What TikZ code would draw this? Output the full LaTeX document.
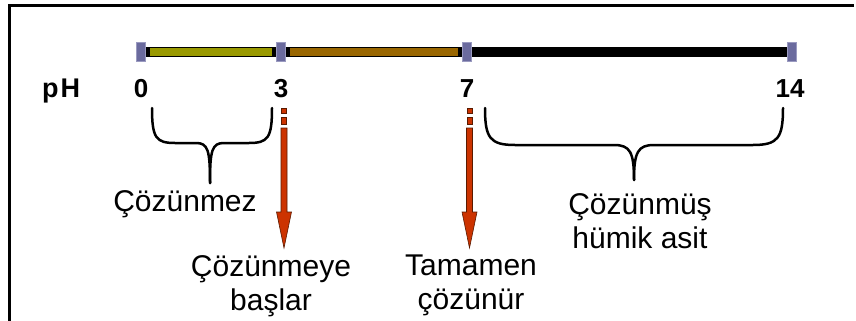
\documentclass[tikz,border=0pt]{standalone}
\usepackage{fontspec}
\setmainfont{Liberation Sans}
\definecolor{olivebar}{HTML}{999900}
\definecolor{brownbar}{HTML}{996600}
\definecolor{markfill}{HTML}{6B6B9E}
\definecolor{markedge}{HTML}{9A9AC0}
\definecolor{arrowred}{HTML}{CC3300}
\definecolor{arrowedge}{HTML}{5A1A00}
\begin{document}
\begin{tikzpicture}[x=1pt,y=-1pt,
  ticklbl/.style={font=\fontsize{26}{30}\selectfont\bfseries, inner sep=0pt, anchor=base},
  lbl/.style={font=\fontsize{30}{34}\selectfont, inner sep=0pt, align=center, anchor=north},
  phmark/.style={draw=markedge, line width=0.5pt, fill=markfill,
    minimum width=9pt, minimum height=19pt, inner sep=0pt},
  bracepath/.style={line width=2.5pt, line cap=round, line join=round},
  redbox/.style={fill=arrowred, draw=arrowedge, line width=0.6pt, line join=miter},
  downarrow/.pic={
    \path[redbox] (-2.7,0) rectangle (2.7,5);
    \path[redbox] (-2.7,9) rectangle (2.7,16);
    \path[redbox] (-3,20) -- (3,20) -- (3,104) -- (7.5,104) -- (0,140)
      -- (-7.5,104) -- (-3,104) -- cycle;
  }]
\useasboundingbox (0,0) rectangle (856,321);

% frame: top and left edges only
\draw[line width=3pt, line join=miter] (9,321) -- (9,5.5) -- (854,5.5);

% pH scale bar
\coordinate (p0) at (141,52);
\coordinate (p3) at (281,52);
\coordinate (p7) at (467,52);
\coordinate (p14) at (792,52);
\fill[black] ([yshift=5pt]p0) rectangle ([yshift=-5pt]p14);
\fill[olivebar] ([xshift=9pt,yshift=4pt]p0) rectangle ([xshift=-9pt,yshift=-4pt]p3);
\fill[brownbar] ([xshift=9pt,yshift=4pt]p3) rectangle ([xshift=-9pt,yshift=-4pt]p7);

\node[phmark] (m0) at (p0) {};
\node[phmark] (m3) at (p3) {};
\node[phmark] (m7) at (p7) {};
\node[phmark] (m14) at (p14) {};

% scale labels
\node[ticklbl, font=\fontsize{27}{30}\selectfont\bfseries] (ph) at (61,97) {p\kern2pt H};
\node[ticklbl] (n0) at (141,97) {0};
\node[ticklbl] (n3) at (281,97) {3};
\node[ticklbl] (n7) at (467,97) {7};
\node[ticklbl] (n14) at (790,97) {14};

% brace under pH 0--3
\draw[bracepath] (152,108) .. controls (152,138) and (156,143) .. (175,143) -- (196,143)
  .. controls (208,143) and (210,150) .. (210,183);
\draw[bracepath] (272,108) .. controls (272,138) and (268,143) .. (249,143) -- (224,143)
  .. controls (212,143) and (210,150) .. (210,183);

% brace under pH 7--14
\draw[bracepath] (485,108) .. controls (485,138) and (490,145) .. (515,145) -- (614,145)
  .. controls (630,145) and (634,152) .. (634,180);
\draw[bracepath] (783,108) .. controls (783,138) and (778,145) .. (753,145) -- (654,145)
  .. controls (638,145) and (634,152) .. (634,180);

% arrows at pH 3 and pH 7
\pic at (284,108) {downarrow};
\pic at (469.5,108) {downarrow};

% descriptions
\node[lbl] (insol) at (185,190) {Çözünmez};
\node[lbl] (begin) at (271,255) {Çözünmeye\\başlar};
\node[lbl] (full) at (471,255) {Tamamen\\çözünür};
\node[lbl] (dissolved) at (640,193) {Çözünmüş\\hümik asit};
\end{tikzpicture}
\end{document}
